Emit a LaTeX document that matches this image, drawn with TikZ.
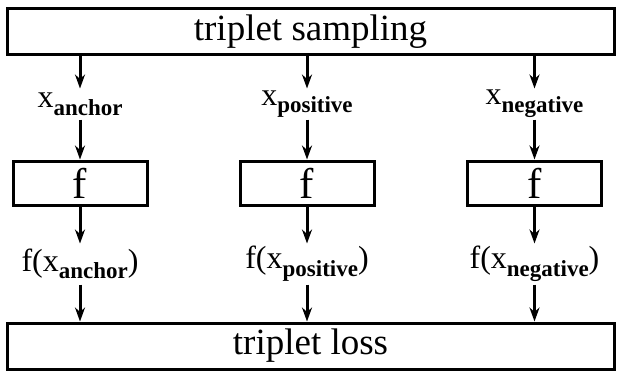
\documentclass[tikz,border=0pt]{standalone}
\usepackage{fontspec}
\setmainfont{Liberation Serif}
\usepackage{tikz}
\usetikzlibrary{arrows.meta,positioning}
\tikzstyle{bar}=[draw,line width=3pt,minimum width=607pt,minimum height=46pt,inner sep=0pt,font=\fontsize{37}{37}\selectfont]
\tikzstyle{fbox}=[draw,line width=3pt,minimum width=134pt,minimum height=44pt,inner sep=0pt,font=\fontsize{43}{43}\selectfont]
\tikzstyle{lbl}=[inner sep=0pt,font=\fontsize{32}{32}\selectfont]
\newcommand{\sbx}[1]{\raisebox{-0.24em}{\fontsize{23}{23}\selectfont\bfseries #1}}

\begin{document}
\begin{tikzpicture}[x=1pt,y=-1pt,line width=3pt,>={Stealth[length=14pt,width=10pt]}]
\useasboundingbox (0,0) rectangle (617,372);
\draw (310.5, 31.5) node [bar] (samp) {triplet sampling};
\draw (310.5, 346) node [bar] (loss) {triplet loss};
\draw (80, 183) node [fbox] (f1) {f};
\draw (307, 183) node [fbox] (f2) {f};
\draw (534.5, 183) node [fbox] (f3) {f};
% inputs
\draw (80, 104) node [lbl,minimum height=28pt] (xa) {x\sbx{anchor}};
\draw (307, 104) node [lbl,minimum height=28pt] (xp) {x\sbx{positive}};
\draw (534.5, 104) node [lbl,minimum height=28pt] (xn) {x\sbx{negative}};
% embeddings
\draw (80, 264) node [lbl,minimum height=38pt] (ya) {f(x\sbx{anchor})};
\draw (307, 264) node [lbl,minimum height=38pt] (yp) {f(x\sbx{positive})};
\draw (534.5, 264) node [lbl,minimum height=38pt] (yn) {f(x\sbx{negative})};
\draw[->] (samp.south -| xa) -- (xa);
\draw[->] (samp.south -| xp) -- (xp);
\draw[->] (samp.south -| xn) -- (xn);
\draw[->] (xa) -- (f1);
\draw[->] (xp) -- (f2);
\draw[->] (xn) -- (f3);
\draw[->] (f1) -- (ya);
\draw[->] (f2) -- (yp);
\draw[->] (f3) -- (yn);
\draw[->] (ya) -- (loss.north -| ya);
\draw[->] (yp) -- (loss.north -| yp);
\draw[->] (yn) -- (loss.north -| yn);
\end{tikzpicture}
\end{document}
